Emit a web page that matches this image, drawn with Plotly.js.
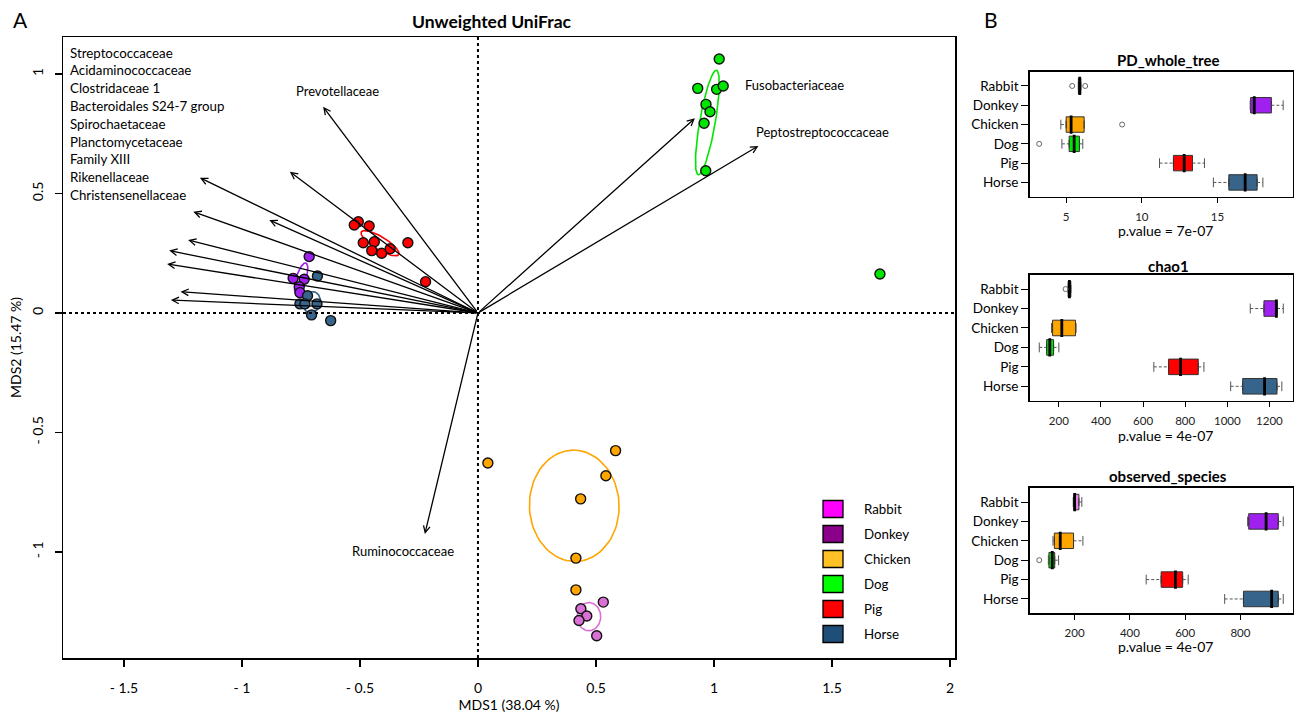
<!DOCTYPE html>
<html><head><meta charset="utf-8">
<script src="https://cdn.plot.ly/plotly-3.0.1.min.js"></script>
<style>html,body{margin:0;padding:0;background:#fff}#chart{width:1298px;height:718px}</style>
</head><body><div id="chart"></div>
<script>
// ================= Panel A : MDS scores =================
const groups = ['Rabbit','Donkey','Chicken','Dog','Pig','Horse'];
const rabbitX  = [0.531, 0.436, 0.461, 0.428, 0.503];
const rabbitY  = [-1.210, -1.238, -1.268, -1.287, -1.351];
const donkeyX  = [-0.715, -0.783, -0.736, -0.757, -0.754];
const donkeyY  = [0.236, 0.145, 0.141, 0.110, 0.085];
const chickenX = [0.583, 0.542, 0.435, 0.415, 0.415, 0.042];
const chickenY = [-0.576, -0.681, -0.778, -1.026, -1.159, -0.628];
const dogX     = [1.022, 0.931, 1.011, 1.039, 0.966, 0.983, 0.958, 0.965, 1.703];
const dogY     = [1.063, 0.940, 0.936, 0.950, 0.873, 0.842, 0.794, 0.595, 0.163];
const pigX     = [-0.507, -0.524, -0.461, -0.486, -0.439, -0.450, -0.408, -0.372, -0.297, -0.222];
const pigY     = [0.382, 0.368, 0.364, 0.294, 0.298, 0.261, 0.250, 0.269, 0.294, 0.131];
const horseX   = [-0.680, -0.722, -0.754, -0.733, -0.682, -0.705, -0.624];
const horseY   = [0.155, 0.072, 0.038, 0.038, 0.038, -0.008, -0.032];

// confidence ellipses (centre, semi-axes, angle in degrees), order = groups
const ellCX    = [0.470, -0.749, 0.408, 0.972, -0.415, -0.705];
const ellCY    = [-1.271, 0.144, -0.807, 0.797, 0.292, 0.045];
const ellA     = [0.059, 0.068, 0.233, 0.222, 0.092, 0.045];
const ellB     = [0.050, 0.021, 0.190, 0.033, 0.027, 0.037];
const ellAngle = [90, 73, 92, 80, -31, 75];

// family vectors (arrow tips)
const leftFamilies = ['Streptococcaceae','Acidaminococcaceae','Clostridaceae 1','Bacteroidales S24-7 group',
  'Spirochaetaceae','Planctomycetaceae','Family XIII','Rikenellaceae','Christensenellaceae'];
const leftTipX = [-1.178, -0.797, -1.206, -0.884, -1.228, -1.308, -1.317, -1.260, -1.301];
const leftTipY = [0.566, 0.591, 0.424, 0.389, 0.305, 0.261, 0.205, 0.089, 0.054];
const namedFamilies = ['Prevotellaceae','Fusobacteriaceae','Peptostreptococcaceae','Ruminococcaceae'];
const namedTipX   = [-0.656, 0.919, 1.188, -0.225];
const namedTipY   = [0.863, 0.815, 0.699, -0.925];
const namedLabelX = [-0.597, 1.343, 1.458, -0.318];
const namedLabelY = [0.929, 0.954, 0.757, -0.996];

const mainXTicks = [-1.5, -1, -0.5, 0, 0.5, 1, 1.5, 2];
const mainXText  = ['- 1.5','- 1','- 0.5','0','0.5','1','1.5','2'];
const mainYTicks = [-1, -0.5, 0, 0.5, 1];
const mainYText  = ['- 1','- 0.5','0','0.5','1'];

// ================= Panel B : alpha diversity =================
const boxCats = ['Rabbit','Donkey','Chicken','Dog','Pig','Horse'];
const pdLow  = [5.81, 17.16, 4.65, 4.72, 11.17, 14.73];
const pdQ1   = [5.81, 17.19, 5.00, 5.20, 12.09, 15.75];
const pdMed  = [5.90, 17.43, 5.33, 5.53, 12.80, 16.83];
const pdQ3   = [5.97, 18.56, 6.19, 5.88, 13.35, 17.62];
const pdHigh = [5.97, 19.34, 6.19, 6.10, 14.14, 18.00];
const pdOutCat = ['Rabbit','Rabbit','Chicken','Dog'];
const pdOutVal = [5.40, 6.26, 8.70, 3.22];

const chLow  = [244, 1109, 165, 107, 651, 1016];
const chQ1   = [244, 1174, 170, 142, 721, 1073];
const chMed  = [250, 1233, 214, 157, 778, 1177];
const chQ3   = [257, 1236, 279, 175, 862, 1236];
const chHigh = [257, 1266, 282, 200, 889, 1259];
const chOutCat = ['Rabbit'];
const chOutVal = [232];

const osLow  = [195, 826, 121.6, 105, 459, 743];
const osQ1   = [197.5, 830, 126.6, 107, 513, 811];
const osMed  = [200, 893, 148, 119, 565, 913];
const osQ3   = [215.5, 937, 196, 128, 591, 937];
const osHigh = [226, 955, 230, 142, 611, 955];
const osOutCat = ['Dog'];
const osOutVal = [72];

const panelTitles = ['PD_whole_tree','chao1','observed_species'];
const panelPvals  = ['p.value = 7e-07','p.value = 4e-07','p.value = 4e-07'];
const pdTicks = [5, 10, 15];
const chTicks = [200, 400, 600, 800, 1000, 1200];
const osTicks = [200, 400, 600, 800];

// ================= styles =================
const W = 1298, H = 718;
const FONT = 'Lato, "Open Sans", sans-serif';
const pointColors = ['#DA70D6','#A020F0','#FFA500','#00E600','#FF0000','#36648B'];
const ellColors   = ['#DA70D6','#A020F0','#FFA500','#00E600','#FF0000','#36648B'];
const legendColors = ['#FF00FF','#8B008B','#FFC125','#00FF00','#FF0000','#1F4E79'];
const boxColorSets = [
  ['#8B008B','#A020F0','#FFA500','#00E600','#FF0000','#36648B'],
  ['#5A005A','#A020F0','#FFA500','#00E600','#FF0000','#36648B'],
  ['#EE82EE','#A020F0','#FFA500','#00E600','#FF0000','#36648B']
];
const px = p => p / W;
const py = p => 1 - p / H;

function ellipsePath(cx, cy, a, b, angDeg) {
  const t = angDeg * Math.PI / 180, xs = [], ys = [];
  for (let k = 0; k <= 90; k++) {
    const u = 2 * Math.PI * k / 90;
    const ex = a * Math.cos(u), ey = b * Math.sin(u);
    xs.push(cx + ex * Math.cos(t) - ey * Math.sin(t));
    ys.push(cy + ex * Math.sin(t) + ey * Math.cos(t));
  }
  return {xs, ys};
}

const traces = [];
groups.forEach((g, i) => {
  const e = ellipsePath(ellCX[i], ellCY[i], ellA[i], ellB[i], ellAngle[i]);
  traces.push({type:'scatter', mode:'lines', x:e.xs, y:e.ys, xaxis:'x', yaxis:'y',
    line:{color:ellColors[i], width:1.6}, hoverinfo:'skip', showlegend:false});
});
const ptsX = [rabbitX, donkeyX, chickenX, dogX, pigX, horseX];
const ptsY = [rabbitY, donkeyY, chickenY, dogY, pigY, horseY];
groups.forEach((g, i) => {
  traces.push({type:'scatter', mode:'markers', name:g, x:ptsX[i], y:ptsY[i], xaxis:'x', yaxis:'y',
    marker:{size:10, color:pointColors[i], line:{color:'#111', width:1.4}}, showlegend:false});
});

const panels = [
  {xa:'x2', ya:'y2', low:pdLow, q1:pdQ1, med:pdMed, q3:pdQ3, high:pdHigh, oc:pdOutCat, ov:pdOutVal},
  {xa:'x3', ya:'y3', low:chLow, q1:chQ1, med:chMed, q3:chQ3, high:chHigh, oc:chOutCat, ov:chOutVal},
  {xa:'x4', ya:'y4', low:osLow, q1:osQ1, med:osMed, q3:osQ3, high:osHigh, oc:osOutCat, ov:osOutVal}
];
panels.forEach((p, pi) => {
  const wx = [], wy = [], cx = [], cy = [];
  boxCats.forEach((c, i) => {
    if (p.low[i] < p.q1[i]) { wx.push(p.low[i], p.q1[i], null); wy.push(c, c, null); cx.push(p.low[i]); cy.push(c); }
    if (p.high[i] > p.q3[i]) { wx.push(p.q3[i], p.high[i], null); wy.push(c, c, null); cx.push(p.high[i]); cy.push(c); }
  });
  traces.push({type:'scatter', mode:'lines', x:wx, y:wy, xaxis:p.xa, yaxis:p.ya,
    line:{color:'#555', width:1, dash:'3px,2px'}, hoverinfo:'skip', showlegend:false});
  traces.push({type:'scatter', mode:'markers', x:cx, y:cy, xaxis:p.xa, yaxis:p.ya,
    marker:{symbol:'line-ns', size:7, line:{color:'#555', width:1}}, hoverinfo:'skip', showlegend:false});
  boxCats.forEach((c, i) => {
    traces.push({type:'box', orientation:'h', y:[c], q1:[p.q1[i]], median:[p.med[i]], q3:[p.q3[i]],
      lowerfence:[p.q1[i]], upperfence:[p.q3[i]], xaxis:p.xa, yaxis:p.ya, width:0.8,
      fillcolor:boxColorSets[pi][i], line:{color:'#333', width:1}, boxpoints:false, showlegend:false, name:c});
  });
  traces.push({type:'scatter', mode:'markers', x:p.med, y:boxCats, xaxis:p.xa, yaxis:p.ya,
    marker:{symbol:'line-ns', size:13, line:{color:'#000', width:2.8}}, hoverinfo:'x', showlegend:false});
  traces.push({type:'scatter', mode:'markers', x:p.ov, y:p.oc, xaxis:p.xa, yaxis:p.ya,
    marker:{symbol:'circle-open', size:5, color:'#666', line:{width:1}}, showlegend:false});
});

const ann = [];
leftTipX.forEach((x, i) => {
  ann.push({xref:'x', yref:'y', axref:'x', ayref:'y', x:x, y:leftTipY[i], ax:0, ay:0, text:'',
    showarrow:true, arrowhead:5, arrowsize:1, arrowwidth:1.3, arrowcolor:'#000', standoff:0});
});
namedTipX.forEach((x, i) => {
  ann.push({xref:'x', yref:'y', axref:'x', ayref:'y', x:x, y:namedTipY[i], ax:0, ay:0, text:'',
    showarrow:true, arrowhead:5, arrowsize:1, arrowwidth:1.3, arrowcolor:'#000', standoff:0});
  ann.push({xref:'x', yref:'y', x:namedLabelX[i], y:namedLabelY[i], text:namedFamilies[i], showarrow:false,
    font:{family:FONT, size:13, color:'#000'}, xanchor:'center', yanchor:'middle'});
});
leftFamilies.forEach((t, i) => {
  ann.push({xref:'paper', yref:'paper', x:px(68), y:py(52.7 + i * 17.8), text:t, showarrow:false,
    xanchor:'left', yanchor:'middle', font:{family:FONT, size:13.3, color:'#000'}});
});
const shapes = [
  {type:'line', xref:'x', yref:'y domain', x0:0, x1:0, y0:0, y1:1, line:{color:'#000', width:2, dash:'dot'}},
  {type:'line', xref:'x domain', yref:'y', x0:0, x1:1, y0:0, y1:0, line:{color:'#000', width:2, dash:'dot'}}
];
groups.forEach((g, i) => {
  const yc = 509 + i * 25;
  shapes.push({type:'rect', xref:'paper', yref:'paper', x0:px(823), x1:px(843), y0:py(yc + 8.5), y1:py(yc - 8.5),
    fillcolor:legendColors[i], line:{color:'#000', width:1.3}});
  ann.push({xref:'paper', yref:'paper', x:px(862), y:py(yc), text:g, showarrow:false, xanchor:'left', yanchor:'middle',
    font:{family:FONT, size:13.3, color:'#000'}});
});
ann.push({xref:'paper', yref:'paper', x:px(20), y:py(19), text:'A', showarrow:false, xanchor:'center', yanchor:'middle',
  font:{family:FONT, size:21, color:'#000'}});
ann.push({xref:'paper', yref:'paper', x:px(991), y:py(19), text:'B', showarrow:false, xanchor:'center', yanchor:'middle',
  font:{family:FONT, size:21, color:'#000'}});
const titleY = [60, 265.5, 476];
const pvalY  = [230, 435.7, 646.7];
panelTitles.forEach((t, i) => {
  ann.push({xref:'paper', yref:'paper', x:px(1168), y:py(titleY[i]), text:'<b>' + t + '</b>', showarrow:false,
    xanchor:'center', yanchor:'middle', font:{family:FONT, size:15, color:'#000'}});
  ann.push({xref:'paper', yref:'paper', x:px(1165), y:py(pvalY[i]), text:panelPvals[i], showarrow:false,
    xanchor:'center', yanchor:'middle', font:{family:FONT, size:14, color:'#000'}});
});

const frame = {showline:true, mirror:true, linecolor:'#000', linewidth:1.5, showgrid:false, zeroline:false,
  ticks:'outside', tickcolor:'#000', automargin:false};
const bx = (range, tickvals, anchor) => Object.assign({}, frame, {domain:[px(1029.5), px(1293)], range:range,
  tickvals:tickvals, ticklen:5, tickwidth:1, ticklabelstandoff:4, anchor:anchor,
  tickfont:{family:FONT, size:11.5, color:'#222'}, linewidth:1.3});
const by = (dom, anchor) => Object.assign({}, frame, {domain:dom, type:'category', categoryorder:'array',
  categoryarray:boxCats.slice().reverse(), range:[-0.74, 5.74], ticklen:7, tickwidth:1, anchor:anchor,
  tickfont:{family:FONT, size:13.5, color:'#000'}, linewidth:1.3});

const layout = {
  width:W, height:H, margin:{l:0, r:0, t:0, b:0}, paper_bgcolor:'#fff', plot_bgcolor:'#fff',
  showlegend:false, boxmode:'overlay',
  title:{text:'<b>Unweighted UniFrac</b>', x:px(491.5), xanchor:'center', y:py(22), yanchor:'middle',
    font:{family:FONT, size:17.5, color:'#000'}},
  xaxis: Object.assign({}, frame, {domain:[px(63), px(955)], range:[-1.758, 2.021], tickvals:mainXTicks,
    ticktext:mainXText, ticklen:7, tickwidth:1.3, ticklabelstandoff:10, anchor:'y',
    tickfont:{family:FONT, size:14, color:'#000'},
    title:{text:'MDS1 (38.04 %)', font:{family:FONT, size:14, color:'#000'}, standoff:5}}),
  yaxis: Object.assign({}, frame, {domain:[py(658), py(37)], range:[-1.444, 1.155], tickvals:mainYTicks,
    ticktext:mainYText, tickangle:-90, ticklen:7, tickwidth:1.3, ticklabelstandoff:6, anchor:'x',
    tickfont:{family:FONT, size:14, color:'#000'},
    title:{text:'MDS2 (15.47 %)', font:{family:FONT, size:14, color:'#000'}, standoff:4}}),
  xaxis2: bx([2.58, 19.99], pdTicks, 'y2'),
  yaxis2: by([py(196.7), py(71.7)], 'x2'),
  xaxis3: bx([60.6, 1312], chTicks, 'y3'),
  yaxis3: by([py(400.7), py(274.7)], 'x3'),
  xaxis4: bx([36.7, 990.3], osTicks, 'y4'),
  yaxis4: by([py(613.3), py(487.7)], 'x4'),
  annotations: ann,
  shapes: shapes
};

Plotly.newPlot('chart', traces, layout, {displayModeBar:false, staticPlot:true});
</script>
</body></html>
